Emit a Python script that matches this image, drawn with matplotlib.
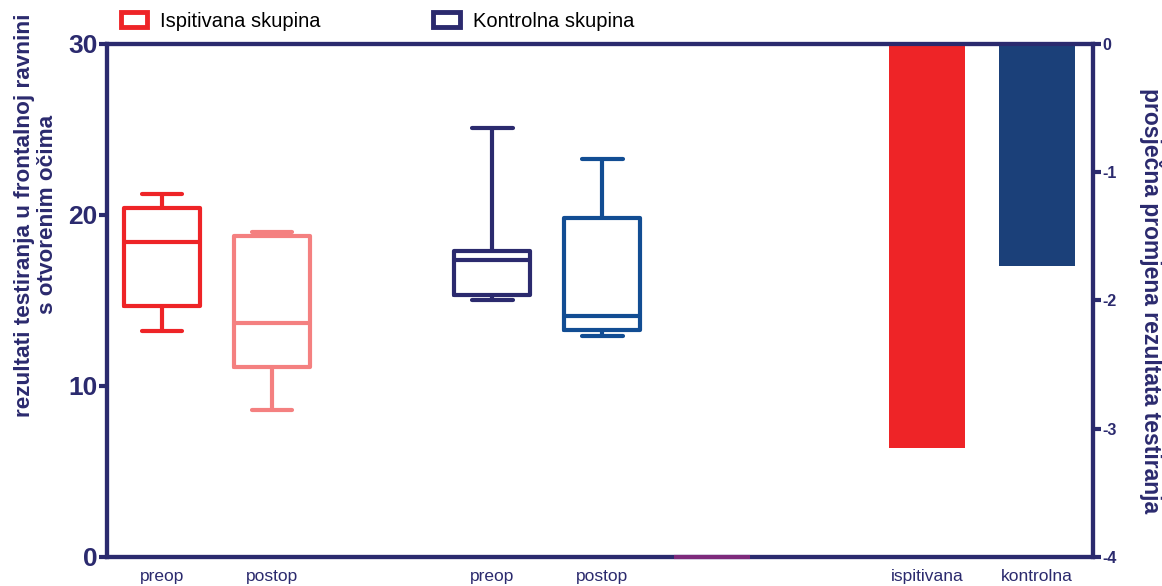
import matplotlib
matplotlib.use('Agg')
from matplotlib import pyplot as plt
from matplotlib.patches import Rectangle

plt.rcParams['font.family'] = ['Liberation Sans', 'DejaVu Sans']
plt.rcParams['axes.unicode_minus'] = False

# Box summaries (min, q1, median, q3, max).
box_labels = ['preop', 'postop', 'preop', 'postop']
box_min = [13.2, 8.6, 15.0, 12.9]
box_q1 = [14.7, 11.1, 15.3, 13.3]
box_med = [18.4, 13.7, 17.35, 14.1]
box_q3 = [20.4, 18.75, 17.9, 19.8]
box_max = [21.2, 19.0, 25.1, 23.3]
box_colors = ['#ee2427', '#f48080', '#2b2a6e', '#124d93']
box_pos = [0.5, 1.5, 3.5, 4.5]

# Mean change of the test result (right axis).
bar_labels = ['ispitivana', 'kontrolna']
bar_values = [-3.15, -1.73]
bar_colors = ['#ee2427', '#1b4079']
bar_pos = [7.45, 8.45]

empty_label = ['']
empty_value = [0]
empty_pos = [5.5]

navy = '#2b2a6e'

fig = plt.figure(figsize=(11.62, 5.86), dpi=100)
ax = fig.add_axes([0.0921, 0.0495, 0.8485, 0.8755])

stats = []
for i in range(len(box_labels)):
    stats.append({'whislo': box_min[i], 'q1': box_q1[i], 'med': box_med[i],
                  'q3': box_q3[i], 'whishi': box_max[i], 'label': box_labels[i]})
bp = ax.bxp(stats, positions=box_pos, widths=0.69, capwidths=0.37,
            showfliers=False, patch_artist=False, manage_ticks=False)
for i, c in enumerate(box_colors):
    for key in ['boxes', 'medians']:
        bp[key][i].set(color=c, linewidth=3, solid_capstyle='round',
                       solid_joinstyle='round')
    for key in ['whiskers', 'caps']:
        for art in bp[key][2 * i:2 * i + 2]:
            art.set(color=c, linewidth=3, solid_capstyle='round')

ax.set_xlim(0, 8.96)
ax.set_ylim(0, 30)
ax.set_yticks([0, 10, 20, 30])
ax.set_xticks(box_pos + empty_pos + bar_pos)
ax.set_xticklabels(box_labels + empty_label + bar_labels)
ax.tick_params(axis='x', length=0, pad=9, labelsize=12.5, labelcolor=navy)
ax.tick_params(axis='y', length=6, width=3, color=navy, labelsize=19,
               labelcolor=navy, pad=1)
for lab in ax.get_yticklabels():
    lab.set_fontweight('bold')
for s in ax.spines.values():
    s.set_color(navy)
    s.set_linewidth(3)
ax.set_ylabel('rezultati testiranja u frontalnoj ravnini\ns otvorenim očima',
              fontsize=16.2, fontweight='bold', color=navy, linespacing=1.1,
              va='center')
ax.yaxis.set_label_coords(-0.072, 0.667)

ax2 = ax.twinx()
ax2.bar(bar_pos, bar_values, width=0.69, color=bar_colors, zorder=2)
ax2.set_ylim(-4, 0)
ax2.set_yticks([0, -1, -2, -3, -4])
ax2.tick_params(axis='y', length=6, width=3, color=navy, labelsize=11.5,
                labelcolor=navy, pad=1)
for lab in ax2.get_yticklabels():
    lab.set_fontweight('bold')
for s in ax2.spines.values():
    s.set_color(navy)
    s.set_linewidth(3)
ax2.set_ylabel('prosječna promjena rezultata testiranja', fontsize=16.5,
               fontweight='bold', color=navy, rotation=270, va='center')
ax2.yaxis.set_label_coords(1.058, 0.5)

# empty category drawn as a flat bar on the baseline, over the spine
ax2.bar(empty_pos, empty_value, bottom=-4, width=0.69,
        color='#7d2a7b', edgecolor='#7d2a7b', linewidth=3, zorder=5,
        clip_on=False)

# Legend above the plot.
handles = [Rectangle((0, 0), 1, 1, facecolor='white', edgecolor='#ee2427', linewidth=3.5),
           Rectangle((0, 0), 1, 1, facecolor='white', edgecolor=navy, linewidth=3.5)]
fig.legend(handles, ['Ispitivana skupina', 'Kontrolna skupina'], loc='upper left',
           bbox_to_anchor=(0.104, 0.98), ncol=2, frameon=False, fontsize=14.5,
           handlelength=1.3, handleheight=0.8, columnspacing=5.6,
           handletextpad=0.65, borderpad=0, borderaxespad=0)

plt.savefig('out.png', dpi=100)
